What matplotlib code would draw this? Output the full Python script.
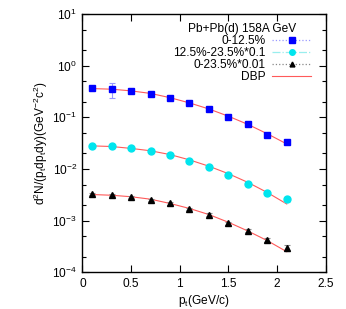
import numpy as np
import matplotlib
matplotlib.use('Agg')
import matplotlib.pyplot as plt
from matplotlib.lines import Line2D
from matplotlib.ticker import LogLocator, NullLocator, FixedLocator

pt = [0.1, 0.3, 0.5, 0.7, 0.9, 1.1, 1.3, 1.5, 1.7, 1.9, 2.1]

# 0-12.5%
y1 = [0.365, 0.349, 0.318, 0.287, 0.232, 0.188, 0.148, 0.100, 0.073, 0.045, 0.034]
e1 = [0.015, 0.110, 0.015, 0.013, 0.011, 0.009, 0.007, 0.005, 0.004, 0.003, 0.003]
f1 = [0.360, 0.350, 0.325, 0.290, 0.240, 0.190, 0.145, 0.105, 0.073, 0.048, 0.0305]

# 12.5%-23.5% * 0.1
y2 = [0.0283, 0.0275, 0.0256, 0.0220, 0.0185, 0.0141, 0.0107, 0.0078, 0.0052, 0.0034, 0.0026]
e2 = [0.0012, 0.0011, 0.0010, 0.0009, 0.0008, 0.0007, 0.0006, 0.0005, 0.0004, 0.0003, 0.0003]
f2 = [0.0280, 0.0272, 0.0250, 0.0225, 0.0190, 0.0150, 0.0113, 0.0081, 0.0055, 0.0035, 0.0021]

# 0-23.5% * 0.01
y3 = [0.00327, 0.00310, 0.00290, 0.00256, 0.00215, 0.00170, 0.00130, 0.00090, 0.00064, 0.00042, 0.00030]
e3 = [0.00015, 0.00014, 0.00013, 0.00012, 0.00011, 0.00009, 0.00008, 0.00006, 0.00005, 0.00004, 0.00004]
f3 = [0.00320, 0.00310, 0.00290, 0.00260, 0.00215, 0.00172, 0.00131, 0.00093, 0.00063, 0.00041, 0.00025]

plt.rcParams['font.family'] = ['Liberation Sans', 'DejaVu Sans']
plt.rcParams['mathtext.fontset'] = 'custom'
plt.rcParams['mathtext.rm'] = 'Liberation Sans'
plt.rcParams['mathtext.it'] = 'Liberation Sans'
fs = 8.6

fig = plt.figure(figsize=(3.46, 3.09), dpi=100)
ax = fig.add_axes([0.2384, 0.1188, 0.7029, 0.8359])

red = '#ff5a5a'
ax.plot(pt, f1, c=red, lw=0.8, zorder=2)
ax.plot(pt, f2, c=red, lw=0.8, zorder=2)
ax.plot(pt, f3, c=red, lw=0.8, zorder=2)

ax.errorbar(pt, y1, yerr=e1, fmt='s', c='#0000ff', ms=5, ecolor='#9999ff',
            elinewidth=0.8, capsize=2, capthick=0.8, zorder=3)
ax.errorbar(pt, y2, yerr=e2, fmt='o', c='#00e5ee', ms=5, ecolor='#99eeee',
            elinewidth=0.8, capsize=2, capthick=0.8, zorder=3)
ax.errorbar(pt, y3, yerr=e3, fmt='^', c='#000000', ms=4, ecolor='#888888',
            elinewidth=0.8, capsize=2, capthick=0.8, zorder=3)

ax.set_yscale('log')
ax.set_xlim(0, 2.5)
ax.set_ylim(1e-4, 10)
ax.xaxis.set_major_locator(FixedLocator([0, 0.5, 1, 1.5, 2, 2.5]))
ax.set_xticklabels(['0', '0.5', '1', '1.5', '2', '2.5'])
ax.xaxis.set_minor_locator(NullLocator())
ax.yaxis.set_major_locator(LogLocator(base=10, numticks=10))
ax.yaxis.set_minor_locator(LogLocator(base=10, subs=[2, 5], numticks=10))
ax.tick_params(which='both', direction='in', top=True, right=True, labelsize=fs, width=0.8)
ax.tick_params(which='major', length=5, pad=4)
ax.tick_params(which='minor', length=3)
for s in ax.spines.values():
    s.set_linewidth(1.0)

ax.set_xlabel('p$_{\\rm t}$(GeV/c)', fontsize=fs, labelpad=2)
ax.set_ylabel('d$^2$N/(p$_{\\rm t}$dp$_{\\rm t}$dy)(GeV$^{-2}$c$^2$)', fontsize=fs, labelpad=2)

handles = [
    Line2D([], [], ls=':', c='#9999ff', marker='s', mfc='#0000ff', mec='#0000ff', ms=4, lw=0.9),
    Line2D([], [], ls='-.', c='#99eeee', marker='o', mfc='#00e5ee', mec='#00e5ee', ms=4, lw=0.9),
    Line2D([], [], ls=':', c='#888888', marker='^', mfc='#000000', mec='#000000', ms=3.5, lw=0.9),
    Line2D([], [], ls='-', c=red, lw=0.8),
]
labels = ['0-12.5%', '12.5%-23.5%*0.1', '0-23.5%*0.01', 'DBP']
leg = ax.legend(handles, labels, loc='upper right', bbox_to_anchor=(0.975, 0.998),
                title='Pb+Pb(d) 158A GeV', frameon=False, markerfirst=False,
                fontsize=fs, title_fontsize=fs, handlelength=3.3, handletextpad=0.5,
                labelspacing=0.0, borderpad=0.2)
for t in leg.get_texts():
    t.set_ha('right')

fig.savefig('out.png', dpi=100)
